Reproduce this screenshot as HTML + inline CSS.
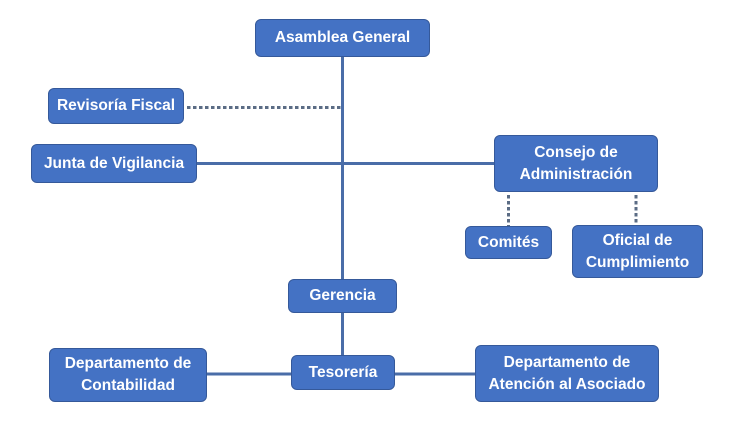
<!DOCTYPE html>
<html>
<head>
<meta charset="utf-8">
<style>
  html,body{margin:0;padding:0;background:#ffffff;}
  body{width:747px;height:427px;position:relative;overflow:hidden;font-family:"Liberation Sans",Arial,sans-serif;}
  svg{position:absolute;left:0;top:0;}
  .b{position:absolute;box-sizing:border-box;background:#4472c4;border:1px solid #35599a;border-radius:6px;color:#fff;font-weight:bold;font-size:15.5px;line-height:22px;display:flex;align-items:center;justify-content:center;text-align:center;white-space:nowrap;}
</style>
</head>
<body>
<svg width="747" height="427" viewBox="0 0 747 427">
  <g stroke="#4a6da8" stroke-width="3" fill="none">
    <line x1="342.5" y1="56" x2="342.5" y2="280"/>
    <line x1="196" y1="163.5" x2="495" y2="163.5"/>
    <line x1="342.5" y1="312" x2="342.5" y2="356"/>
    <line x1="206" y1="374" x2="292" y2="374"/>
    <line x1="394" y1="374" x2="476" y2="374"/>
  </g>
  <g stroke="#5b6c85" stroke-width="3" fill="none" stroke-dasharray="3.5 2.5">
    <line x1="187" y1="107.5" x2="341" y2="107.5"/>
    <line x1="508.5" y1="195" x2="508.5" y2="226"/>
    <line x1="636" y1="195" x2="636" y2="225"/>
  </g>
</svg>
<div class="b" style="left:255px;top:19px;width:175px;height:38px;">Asamblea General</div>
<div class="b" style="left:48px;top:88px;width:136px;height:36px;">Revisoría Fiscal</div>
<div class="b" style="left:31px;top:144px;width:166px;height:39px;">Junta de Vigilancia</div>
<div class="b" style="left:494px;top:135px;width:164px;height:57px;">Consejo de<br>Administración</div>
<div class="b" style="left:465px;top:226px;width:87px;height:33px;">Comités</div>
<div class="b" style="left:572px;top:225px;width:131px;height:53px;">Oficial de<br>Cumplimiento</div>
<div class="b" style="left:288px;top:279px;width:109px;height:34px;">Gerencia</div>
<div class="b" style="left:291px;top:355px;width:104px;height:35px;">Tesorería</div>
<div class="b" style="left:49px;top:348px;width:158px;height:54px;">Departamento de<br>Contabilidad</div>
<div class="b" style="left:475px;top:345px;width:184px;height:57px;">Departamento de<br>Atención al Asociado</div>
</body>
</html>
